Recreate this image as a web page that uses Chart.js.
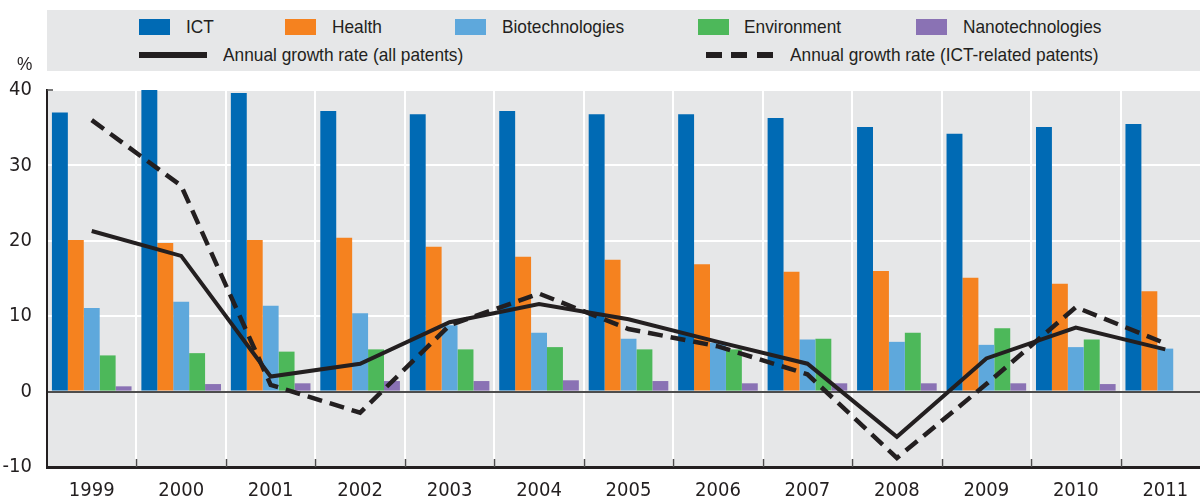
<!DOCTYPE html>
<html>
<head>
<meta charset="utf-8">
<script src="https://cdn.jsdelivr.net/npm/chart.js@4"></script>
<style>
  html, body { margin: 0; padding: 0; background: #fff; overflow: hidden; }
  #wrap { position: relative; width: 1200px; height: 498px; overflow: hidden; }
  #chart { position: absolute; left: 0; top: 0; }
  .txt { position: absolute; font-family: "Liberation Sans", Arial, sans-serif; font-size: 19px; color: #231f20; line-height: 20px; white-space: nowrap; transform: scaleX(0.91); transform-origin: 0 0; }
  .sw { position: absolute; width: 31px; height: 16px; top: 19px; }
  #band { position: absolute; left: 47px; top: 10px; width: 1153px; height: 61px; background: #e6e7e8; }
  .dash { position: absolute; top: 52px; width: 16px; height: 6px; background: #231f20; }
</style>
</head>
<body>
<div id="wrap">
  <canvas id="chart" width="1212" height="498"></canvas>
  <div id="band"></div>
  <div class="sw" style="left:139px;background:#006ab4"></div>
  <div class="txt" style="left:186px;top:17px">ICT</div>
  <div class="sw" style="left:285px;background:#f5821f"></div>
  <div class="txt" style="left:332px;top:17px">Health</div>
  <div class="sw" style="left:455px;background:#5ea8dc"></div>
  <div class="txt" style="left:502px;top:17px">Biotechnologies</div>
  <div class="sw" style="left:698px;background:#4db85a"></div>
  <div class="txt" style="left:744px;top:17px">Environment</div>
  <div class="sw" style="left:916px;background:#8a72b4"></div>
  <div class="txt" style="left:963px;top:17px">Nanotechnologies</div>
  <div style="position:absolute;left:139px;top:52px;width:68px;height:6px;background:#231f20"></div>
  <div class="txt" style="left:223px;top:45px">Annual growth rate (all patents)</div>
  <div class="dash" style="left:706px"></div>
  <div class="dash" style="left:731px"></div>
  <div class="dash" style="left:757px"></div>
  <div class="txt" style="left:790px;top:45px">Annual growth rate (ICT-related patents)</div>
  <div class="txt" style="left:17px;top:54px">%</div>
</div>
<script>
var years = ['1999', '2000', '2001', '2002', '2003', '2004', '2005', '2006', '2007', '2008', '2009', '2010', '2011']
var ict = [37.0, 40.0, 39.6, 37.2, 36.8, 37.2, 36.8, 36.8, 36.3, 35.1, 34.2, 35.1, 35.5]
var health = [20.1, 19.7, 20.1, 20.4, 19.2, 17.9, 17.5, 16.9, 15.9, 16.0, 15.1, 14.3, 13.3]
var biotech = [11.1, 11.9, 11.4, 10.4, 8.8, 7.8, 7.0, 6.5, 6.9, 6.6, 6.2, 5.9, 5.7]
var environment = [4.8, 5.1, 5.3, 5.6, 5.6, 5.9, 5.6, 5.6, 7.0, 7.8, 8.4, 6.9, null]
var nano = [0.7, 1.0, 1.1, 1.4, 1.4, 1.5, 1.4, 1.1, 1.1, 1.1, 1.1, 1.0, null]
var growthAll = [21.3, 18.0, 2.0, 3.7, 9.2, 11.6, 9.6, 6.6, 3.7, -6.0, 4.4, 8.5, 5.6]
var growthIct = [36.0, 27.3, 0.9, -2.8, 8.8, 13.0, 8.3, 6.0, 2.3, -8.8, 1.0, 11.2, 6.4]

var textColor = '#231f20'
var fontFamily = '"DejaVu Sans Condensed", "Liberation Sans", sans-serif'

// grey plot background + little dark ticks along the bottom axis
var plotDecor = {
  id: 'plotDecor',
  beforeDraw: function (chart) {
    var a = chart.chartArea, ctx = chart.ctx
    ctx.save()
    ctx.fillStyle = '#e6e7e8'
    ctx.fillRect(a.left, a.top, a.right - a.left, a.bottom - a.top)
    ctx.restore()
  },
  afterDatasetsDraw: function (chart) {
    var a = chart.chartArea, ctx = chart.ctx
    var n = years.length
    var w = (a.right - a.left) / n
    ctx.save()
    ctx.strokeStyle = '#4d4d4d'
    ctx.lineWidth = 1.5
    for (var i = 1; i < n; i++) {
      var x = Math.round(a.left + i * w) + 0.5
      ctx.beginPath()
      ctx.moveTo(x, a.bottom - 8)
      ctx.lineTo(x, a.bottom)
      ctx.stroke()
    }
    ctx.beginPath()
    ctx.moveTo(a.left, a.top)
    ctx.lineTo(a.left + 6, a.top)
    ctx.stroke()
    ctx.restore()
  }
}

function bar(label, data, color) {
  return { type: 'bar', label: label, data: data, backgroundColor: color, borderWidth: 0, order: 1,
    categoryPercentage: 0.89, barPercentage: 1.0 }
}

new Chart(document.getElementById('chart').getContext('2d'), {
  data: {
    labels: years,
    datasets: [
      { type: 'line', label: 'Annual growth rate (all patents)', data: growthAll, borderColor: textColor,
        borderWidth: 4, pointRadius: 0, order: 0, tension: 0 },
      { type: 'line', label: 'Annual growth rate (ICT-related patents)', data: growthIct, borderColor: textColor,
        borderWidth: 4.5, borderDash: [15, 8], pointRadius: 0, order: 0, tension: 0 },
      bar('ICT', ict, '#006ab4'),
      bar('Health', health, '#f5821f'),
      bar('Biotechnologies', biotech, '#5ea8dc'),
      bar('Environment', environment, '#4db85a'),
      bar('Nanotechnologies', nano, '#8a72b4')
    ]
  },
  options: {
    responsive: false,
    devicePixelRatio: 1,
    animation: false,
    layout: { padding: { top: 90, right: 2, left: 0, bottom: 0 } },
    plugins: { legend: { display: false }, tooltip: { enabled: false } },
    scales: {
      x: {
        offset: true,
        grid: { color: '#ffffff', lineWidth: 2, offset: true, drawTicks: false },
        border: { color: textColor, width: 3 },
        ticks: { color: textColor, font: { family: fontFamily, size: 20 }, padding: 12, maxRotation: 0 },
        afterFit: function (scale) { scale.height = 31 }
      },
      y: {
        min: -10,
        max: 40,
        ticks: { stepSize: 10, color: textColor, font: { family: fontFamily, size: 20 }, padding: 15 },
        grid: {
          drawTicks: false,
          lineWidth: 2,
          color: function (c) { return c.tick && c.tick.value === 0 ? '#4d4d4d' : '#ffffff' }
        },
        border: { color: textColor, width: 2 },
        afterFit: function (scale) { scale.width = 47 }
      }
    }
  },
  plugins: [plotDecor]
})
</script>
</body>
</html>
